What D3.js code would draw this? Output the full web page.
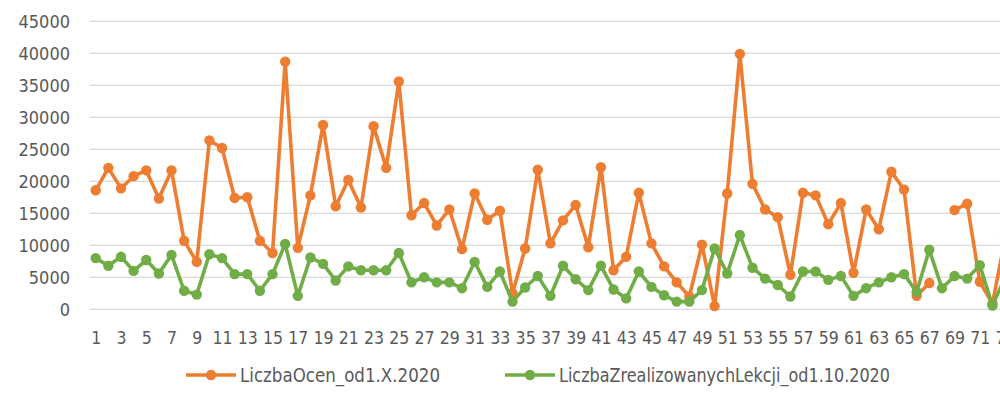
<!DOCTYPE html>
<html>
<head>
<meta charset="utf-8">
<script src="https://cdn.jsdelivr.net/npm/d3@7"></script>
<style>
  html, body { margin: 0; padding: 0; background: #fff; }
  svg { display: block; font-family: "Liberation Sans Narrow", "DejaVu Sans Condensed", "Liberation Sans", sans-serif; }
</style>
</head>
<body>
<svg id="chart" width="1000" height="408"></svg>
<script>
'use strict';

// category numbers (1..73, the chart is cropped on the right)
var categories = d3.range(1, 74);

// LiczbaOcen_od1.X.2020 (null = missing point)
var liczbaOcen = [
    18600, 22100, 18900, 20800, 21700, 17300, 21700, 10700, 7400, 26400,
    25200, 17400, 17500, 10700, 8800, 38700, 9600, 17800, 28800, 16100,
    20200, 15900, 28600, 22100, 35600, 14700, 16600, 13100, 15600, 9400,
    18100, 14000, 15400, 2500, 9500, 21800, 10300, 13900, 16300, 9700,
    22200, 6100, 8200, 18200, 10300, 6700, 4200, 2000, 10100, 500,
    18100, 39900, 19600, 15600, 14400, 5400, 18200, 17800, 13300, 16600,
    5700, 15600, 12500, 21500, 18700, 2100, 4100, null, 15500, 16500,
    4300, 900, 11000
];

// LiczbaZrealizowanychLekcji_od1.10.2020
var liczbaLekcji = [
    8000, 6800, 8200, 6000, 7700, 5600, 8500, 2900, 2300, 8600,
    8000, 5500, 5500, 2900, 5500, 10200, 2100, 8100, 7100, 4500,
    6700, 6100, 6100, 6100, 8800, 4200, 5000, 4200, 4200, 3300,
    7400, 3500, 5900, 1200, 3400, 5200, 2100, 6800, 4700, 3000,
    6800, 3100, 1700, 5900, 3500, 2200, 1200, 1200, 3000, 9500,
    5600, 11600, 6500, 4800, 3800, 2000, 5900, 5900, 4600, 5200,
    2100, 3300, 4200, 5000, 5500, 2700, 9300, 3300, 5200, 4800,
    6900, 600, 5000
];

var yTicks = d3.range(0, 45001, 5000);
var xTickLabels = categories.filter(function (c) { return c % 2 === 1; });

var seriesNames = ['LiczbaOcen_od1.X.2020', 'LiczbaZrealizowanychLekcji_od1.10.2020'];
var seriesColors = ['#ED7D31', '#70AD47'];

var svg = d3.select('#chart');

var plot = { left: 89.4, top: 21.3, bottom: 309.3, step: 12.63 };

var x = d3.scalePoint()
    .domain(categories)
    .range([plot.left, plot.left + categories.length * plot.step])
    .padding(0.5);

var y = d3.scaleLinear()
    .domain([0, 45000])
    .range([plot.bottom, plot.top]);

// gridlines
svg.append('g')
    .attr('class', 'grid')
    .selectAll('line')
    .data(yTicks)
    .enter().append('line')
    .attr('x1', plot.left)
    .attr('x2', 1000)
    .attr('y1', function (d) { return y(d); })
    .attr('y2', function (d) { return y(d); })
    .attr('stroke', '#d9d9d9')
    .attr('stroke-width', 1.3);

// y axis labels
var yAxis = d3.axisLeft(y).tickValues(yTicks).tickFormat(d3.format('d')).tickSize(0).tickPadding(0);
svg.append('g')
    .attr('transform', 'translate(70,0)')
    .call(yAxis)
    .call(function (g) { g.select('.domain').remove(); })
    .selectAll('text')
    .attr('fill', '#595959')
    .style('font-size', '18px')
    .style('font-family', '"Liberation Sans Narrow", "DejaVu Sans Condensed", sans-serif');

// x axis labels
var xAxis = d3.axisBottom(x).tickValues(xTickLabels).tickSize(0).tickPadding(0);
svg.append('g')
    .attr('transform', 'translate(0,' + (plot.bottom + 22) + ')')
    .call(xAxis)
    .call(function (g) { g.select('.domain').remove(); })
    .selectAll('text')
    .attr('fill', '#595959')
    .style('font-size', '17.5px')
    .style('font-family', '"Liberation Sans Narrow", "DejaVu Sans Condensed", sans-serif');

// series
var allSeries = [liczbaOcen, liczbaLekcji];

var line = d3.line()
    .defined(function (d) { return d !== null; })
    .x(function (d, i) { return x(categories[i]); })
    .y(function (d) { return y(d); });

allSeries.forEach(function (values, s) {
    var g = svg.append('g').attr('class', 'series');
    g.append('path')
        .datum(values)
        .attr('d', line)
        .attr('fill', 'none')
        .attr('stroke', seriesColors[s])
        .attr('stroke-width', 3.6)
        .attr('stroke-linejoin', 'round');

    g.selectAll('circle')
        .data(values.map(function (v, i) { return { c: categories[i], v: v }; })
            .filter(function (d) { return d.v !== null; }))
        .enter().append('circle')
        .attr('cx', function (d) { return x(d.c); })
        .attr('cy', function (d) { return y(d.v); })
        .attr('r', 5.2)
        .attr('fill', seriesColors[s]);
});

// legend
var legendItems = [
    { x: 186, w: 200 },
    { x: 505, w: 331 }
];

var legend = svg.append('g').attr('class', 'legend');
legendItems.forEach(function (item, i) {
    var lg = legend.append('g').attr('transform', 'translate(' + item.x + ',375)');
    lg.append('line')
        .attr('x1', 0).attr('x2', 50)
        .attr('stroke', seriesColors[i])
        .attr('stroke-width', 3.6);
    lg.append('circle')
        .attr('cx', 25).attr('r', 5.2)
        .attr('fill', seriesColors[i]);
    lg.append('text')
        .attr('x', 54)
        .attr('dy', '0.35em')
        .attr('fill', '#595959')
        .attr('textLength', item.w)
        .attr('lengthAdjust', 'spacingAndGlyphs')
        .style('font-size', '19px')
        .text(seriesNames[i]);
});
</script>
</body>
</html>
